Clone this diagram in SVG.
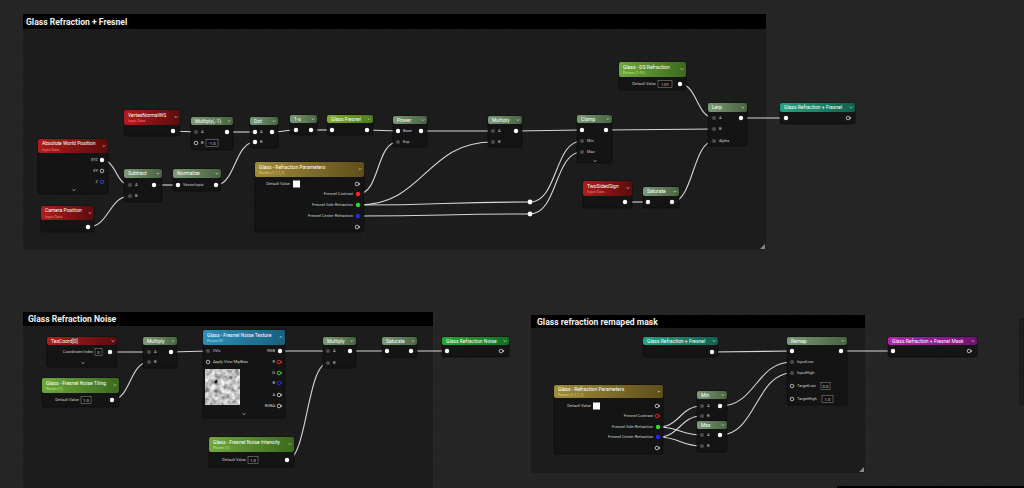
<svg xmlns="http://www.w3.org/2000/svg" xmlns:xlink="http://www.w3.org/1999/xlink" width="1024" height="488" viewBox="0 0 1024 488">
<defs>
<style>
.t{font-family:Roboto,"Liberation Sans",sans-serif;font-size:5px;fill:#fff}
.s{font-family:Roboto,"Liberation Sans",sans-serif;font-size:3.8px}
.l{font-family:Roboto,"Liberation Sans",sans-serif;font-size:4px;fill:#cfcfcf}
.e{text-anchor:end}
.v{font-family:Roboto,"Liberation Sans",sans-serif;font-size:4.2px;fill:#ddd;text-anchor:middle}
.ct{font-family:Roboto,"Liberation Sans",sans-serif;font-size:8.6px;font-weight:bold;fill:#f2f2f2}
.body{fill:#141414;fill-opacity:.95;stroke:#060606;stroke-width:.6}
.w{fill:none;stroke:#d6d6d6;stroke-width:1.1}
.p{fill:#fff}
.g{fill:#4b4b4b}
.r{fill:none;stroke:#d8d8d8;stroke-width:.8}
.box{fill:#0e0e0e;stroke:#9a9a9a;stroke-width:.5}
.cm{fill:#000;fill-opacity:.22}
.ch{fill:#000}
</style>
<pattern id="minor" width="11.75" height="11.75" patternUnits="userSpaceOnUse">
<path d="M11.75 0V11.75H0" fill="none" stroke="#2c2c2c" stroke-width=".6"/>
</pattern>
<pattern id="major" width="47" height="47" patternUnits="userSpaceOnUse">
<path d="M47 0V47H0" fill="none" stroke="#1c1c1c" stroke-width=".8"/>
</pattern>
<linearGradient id="gm" x1="0" x2="1"><stop offset="0" stop-color="#7c9a78"/><stop offset="1" stop-color="#47633f"/></linearGradient>
<linearGradient id="gr" x1="0" x2="1"><stop offset="0" stop-color="#b01c1c"/><stop offset="1" stop-color="#5a0c0c"/></linearGradient>
<linearGradient id="gp" x1="0" x2="1"><stop offset="0" stop-color="#6fa83a"/><stop offset="1" stop-color="#3c6a1e"/></linearGradient>
<linearGradient id="gy" x1="0" x2="1"><stop offset="0" stop-color="#a08c3a"/><stop offset="1" stop-color="#5e4e1a"/></linearGradient>
<linearGradient id="gb" x1="0" x2="1"><stop offset="0" stop-color="#2a90b8"/><stop offset="1" stop-color="#18607e"/></linearGradient>
<linearGradient id="gt" x1="0" x2="1"><stop offset="0" stop-color="#22a484"/><stop offset="1" stop-color="#11604e"/></linearGradient>
<linearGradient id="gg" x1="0" x2="1"><stop offset="0" stop-color="#22a83a"/><stop offset="1" stop-color="#127025"/></linearGradient>
<linearGradient id="gf" x1="0" x2="1"><stop offset="0" stop-color="#7fae2e"/><stop offset="1" stop-color="#4c7a1c"/></linearGradient>
<linearGradient id="gx" x1="0" x2="1"><stop offset="0" stop-color="#b424b4"/><stop offset="1" stop-color="#6e126e"/></linearGradient>
<path id="chev" d="M-1.4 -0.7L0 0.7L1.4 -0.7" fill="none" stroke="#dcdcdc" stroke-width=".7"/>
<path id="chevu" d="M-1.4 0.7L0 -0.7L1.4 0.7" fill="none" stroke="#dcdcdc" stroke-width=".7"/>
<g id="oring"><circle r="1.8" fill="none" stroke="#d8d8d8" stroke-width=".8"/><path d="M2 -1.2L3.2 0L2 1.2Z" fill="#d8d8d8"/></g>
<filter id="nz" x="0" y="0" width="1" height="1">
<feTurbulence type="fractalNoise" baseFrequency="0.2" numOctaves="2" seed="7"/>
<feColorMatrix type="saturate" values="0"/>
<feComponentTransfer><feFuncR type="linear" slope="1.9" intercept="-0.4"/><feFuncG type="linear" slope="1.9" intercept="-0.4"/><feFuncB type="linear" slope="1.9" intercept="-0.4"/><feFuncA type="linear" slope="0" intercept="1"/></feComponentTransfer>
</filter>
</defs>

<!-- background -->
<rect width="1024" height="488" fill="#252525"/>
<rect width="1024" height="488" fill="url(#minor)"/>
<rect width="1024" height="488" fill="url(#major)"/>

<!-- comment boxes -->
<g id="comment-fresnel">
<rect class="cm" x="23" y="29" width="743" height="221"/>
<rect class="ch" x="23" y="14" width="743" height="15"/>
<text class="ct" x="26" y="24.8">Glass Refraction + Fresnel</text>
<path d="M765 244L765 249L760 249Z" fill="#888"/>
</g>
<g id="comment-noise">
<rect class="cm" x="23" y="326" width="410" height="162"/>
<rect class="ch" x="23" y="312" width="410" height="14"/>
<text class="ct" x="28" y="322.3">Glass Refraction Noise</text>
</g>
<g id="comment-mask">
<rect class="cm" x="531" y="328" width="334" height="145"/>
<rect class="ch" x="531" y="315" width="334" height="13"/>
<text class="ct" x="537" y="325">Glass refraction remaped mask</text>
<path d="M864 467L864 472L859 472Z" fill="#888"/>
</g>
<rect x="837" y="486" width="187" height="2" fill="#000"/>
<rect x="1019" y="318" width="5" height="87" fill="#000" fill-opacity=".25"/>

<!-- connectors -->
<g id="connectors">
<path class="w" d="M102 160C116 160 116 185 130 185"/>
<path class="w" d="M88 227C109 227 109 196 130 196"/>
<path class="w" d="M154 185L178 185"/>
<path class="w" d="M173 131L196 132"/>
<path class="w" d="M216 185C235 185 235 142 255 142"/>
<path class="w" d="M227 132L255 132"/>
<path class="w" d="M272 132C284 132 284 130 296 130"/>
<path class="w" d="M311 130L332 130"/>
<path class="w" d="M367 130L398 131"/>
<path class="w" d="M358 194C380 194 376 142 398 142"/>
<path class="w" d="M358 205C425 205 425 142 493 142"/>
<path class="w" d="M421 131L493 131"/>
<path class="w" d="M516 131L582 130"/>
<path class="w" d="M358 205C444 205 444 202 530 202"/>
<path class="w" d="M530 202C558 202 554 141 582 141"/>
<path class="w" d="M358 216C444 216 444 214 530 214"/>
<path class="w" d="M530 214C558 214 554 152 582 152"/>
<path class="w" d="M606 130L714 129"/>
<path class="w" d="M680 84C697 84 697 118 714 118"/>
<path class="w" d="M625 202L648 202"/>
<path class="w" d="M672 202C693 202 693 141 714 141"/>
<path class="w" d="M741 118L786 118"/>
<path class="w" d="M110 352L149 352"/>
<path class="w" d="M112 400C130 400 130 362 149 362"/>
<path class="w" d="M171 352L208 351"/>
<path class="w" d="M280 351L328 351"/>
<path class="w" d="M287 460C307 460 307 363 328 363"/>
<path class="w" d="M350 351L387 351"/>
<path class="w" d="M411 351L447 351"/>
<path class="w" d="M712 352L792 351"/>
<path class="w" d="M841 351L893 351"/>
<path class="w" d="M720 406C756 406 756 362 792 362"/>
<path class="w" d="M720 435C756 435 756 373 792 373"/>
<path class="w" d="M658 427C680 427 680 406 702 406"/>
<path class="w" d="M658 427C680 427 680 435 702 435"/>
<path class="w" d="M658 437C680 437 680 416 702 416"/>
<path class="w" d="M658 437C680 437 680 446 702 446"/>
</g>

<!-- ===== Box 1 nodes ===== -->
<g id="n-absolute-world-position">
<rect class="body" x="38" y="139" width="70" height="55" rx="2"/>
<rect x="38" y="139" width="70" height="14" rx="2" fill="url(#gr)"/>
<text class="t" x="42" y="145.3">Absolute World Position</text>
<text class="s" x="42" y="151" fill="#e88080">Input Data</text>
<use href="#chev" x="104" y="146"/>
<text class="l e" x="98" y="161.4">XYZ</text><circle class="p" cx="102" cy="160" r="2.2"/>
<text class="l e" x="98" y="172.4">XY</text><circle class="r" cx="102" cy="171" r="1.8"/>
<text class="l e" x="98" y="183.4">Z</text><circle cx="102" cy="182" r="1.8" fill="none" stroke="#2844ff" stroke-width=".9"/>
<use href="#chev" x="74" y="190"/>
</g>
<g id="n-vertexnormalws">
<rect class="body" x="124" y="110" width="56" height="26" rx="2"/>
<rect x="124" y="110" width="56" height="15" rx="2" fill="url(#gr)"/>
<text class="t" x="128" y="116.5">VertexNormalWS</text>
<text class="s" x="128" y="122.3" fill="#e88080">Input Data</text>
<use href="#chev" x="176" y="117"/>
<circle class="p" cx="173" cy="131" r="2.2"/>
</g>
<g id="n-camera-position">
<rect class="body" x="41" y="206" width="53" height="26" rx="2"/>
<rect x="41" y="206" width="53" height="14" rx="2" fill="url(#gr)"/>
<text class="t" x="45" y="212.3">Camera Position</text>
<text class="s" x="45" y="218" fill="#e88080">Input Data</text>
<use href="#chev" x="90" y="213"/>
<circle class="p" cx="88" cy="227" r="2.2"/>
</g>
<g id="n-subtract">
<rect class="body" x="124" y="169" width="38" height="33" rx="2"/>
<rect x="124" y="169" width="38" height="9" rx="2" fill="url(#gm)"/>
<text class="t" x="128" y="175.4">Subtract</text>
<use href="#chev" x="158" y="173.5"/>
<circle class="g" cx="130" cy="185" r="2"/><text class="l" x="135" y="186.4">A</text>
<circle class="g" cx="130" cy="196" r="2"/><text class="l" x="135" y="197.4">B</text>
<circle class="p" cx="154" cy="185" r="2.2"/>
</g>
<g id="n-normalize">
<rect class="body" x="173" y="169" width="48" height="22" rx="2"/>
<rect x="173" y="169" width="48" height="9" rx="2" fill="url(#gm)"/>
<text class="t" x="177" y="175.4">Normalize</text>
<use href="#chev" x="217" y="173.5"/>
<circle class="p" cx="178" cy="185" r="2.2"/><text class="l" x="183" y="186.4">VectorInput</text>
<circle class="p" cx="216" cy="185" r="2.2"/>
</g>
<g id="n-multiply-neg1">
<rect class="body" x="191" y="117" width="42" height="33" rx="2"/>
<rect x="191" y="117" width="42" height="8" rx="2" fill="url(#gm)"/>
<text class="t" x="195" y="122.9">Multiply(,-1)</text>
<use href="#chev" x="229" y="121"/>
<circle class="g" cx="196" cy="132" r="2"/><text class="l" x="201" y="133.4">A</text>
<circle class="r" cx="196" cy="143" r="1.8"/><text class="l" x="201" y="144.4">B</text>
<rect class="box" x="206" y="139.5" width="12" height="7"/><text class="v" x="212" y="144.5">-1.0</text>
<circle class="p" cx="227" cy="132" r="2.2"/>
</g>
<g id="n-dot">
<rect class="body" x="250" y="117" width="28" height="31" rx="2"/>
<rect x="250" y="117" width="28" height="8" rx="2" fill="url(#gm)"/>
<text class="t" x="254" y="122.9">Dot</text>
<use href="#chev" x="274" y="121"/>
<circle class="p" cx="255" cy="132" r="2.2"/><text class="l" x="260" y="133.4">A</text>
<circle class="p" cx="255" cy="142" r="2.2"/><text class="l" x="260" y="143.4">B</text>
<circle class="p" cx="272" cy="132" r="2.2"/>
</g>
<g id="n-one-minus">
<rect class="body" x="290" y="115" width="27" height="20" rx="2"/>
<rect x="290" y="115" width="27" height="8" rx="2" fill="url(#gm)"/>
<text class="t" x="294" y="120.9">1-x</text>
<use href="#chev" x="313" y="119"/>
<circle class="p" cx="296" cy="130" r="2.2"/>
<circle class="p" cx="311" cy="130" r="2.2"/>
</g>
<g id="n-glass-fresnel">
<rect class="body" x="327" y="115" width="46" height="20" rx="2"/>
<rect x="327" y="115" width="46" height="8" rx="2" fill="url(#gf)"/>
<text class="t" x="331" y="120.9">Glass Fresnel</text>
<use href="#chev" x="369" y="119"/>
<circle class="p" cx="332" cy="130" r="2.2"/>
<circle class="p" cx="367" cy="130" r="2.2"/>
</g>
<g id="n-refraction-params-1">
<rect class="body" x="255" y="162" width="109" height="70" rx="2"/>
<rect x="255" y="162" width="109" height="15" rx="2" fill="url(#gy)"/>
<text class="t" x="259" y="168.5">Glass - Refraction Parameters</text>
<text class="s" x="259" y="174.4" fill="#e0cf80">Param (1,1,1,1)</text>
<use href="#chev" x="360" y="169"/>
<text class="l e" x="290" y="185.4">Default Value</text>
<rect x="293" y="180.5" width="7" height="7" fill="#fff"/>
<use href="#oring" x="357" y="184"/>
<text class="l e" x="353" y="195.4">Fresnel Contrast</text><circle cx="358" cy="194" r="2.2" fill="#ff2020"/>
<text class="l e" x="353" y="206.4">Fresnel Side Refraction</text><circle cx="358" cy="205" r="2.2" fill="#22e022"/>
<text class="l e" x="353" y="217.4">Fresnel Center Refraction</text><circle cx="358" cy="216" r="2.2" fill="#2424ff"/>
<use href="#oring" x="357" y="227"/>
</g>
<g id="n-power">
<rect class="body" x="393" y="116" width="34" height="31" rx="2"/>
<rect x="393" y="116" width="34" height="8" rx="2" fill="url(#gm)"/>
<text class="t" x="397" y="121.9">Power</text>
<use href="#chev" x="423" y="120"/>
<circle class="p" cx="398" cy="131" r="2.2"/><text class="l" x="403" y="132.4">Base</text>
<circle class="g" cx="398" cy="142" r="2"/><text class="l" x="403" y="143.4">Exp</text>
<circle class="p" cx="421" cy="131" r="2.2"/>
</g>
<g id="n-multiply-1">
<rect class="body" x="488" y="116" width="34" height="31" rx="2"/>
<rect x="488" y="116" width="34" height="8" rx="2" fill="url(#gm)"/>
<text class="t" x="492" y="121.9">Multiply</text>
<use href="#chev" x="518" y="120"/>
<circle class="g" cx="493" cy="131" r="2"/><text class="l" x="498" y="132.4">A</text>
<circle class="g" cx="493" cy="142" r="2"/><text class="l" x="498" y="143.4">B</text>
<circle class="p" cx="516" cy="131" r="2.2"/>
</g>
<g id="n-clamp">
<rect class="body" x="577" y="115" width="35" height="48" rx="2"/>
<rect x="577" y="115" width="35" height="8" rx="2" fill="url(#gm)"/>
<text class="t" x="581" y="120.9">Clamp</text>
<use href="#chev" x="608" y="119"/>
<circle class="p" cx="582" cy="130" r="2.2"/>
<circle class="g" cx="582" cy="141" r="2"/><text class="l" x="587" y="142.4">Min</text>
<circle class="g" cx="582" cy="152" r="2"/><text class="l" x="587" y="153.4">Max</text>
<use href="#chev" x="595" y="161"/>
<circle class="p" cx="606" cy="130" r="2.2"/>
</g>
<g id="n-reroute-1"><circle class="p" cx="530" cy="202" r="2.4"/></g>
<g id="n-reroute-2"><circle class="p" cx="530" cy="214" r="2.4"/></g>
<g id="n-ds-refraction">
<rect class="body" x="619" y="62" width="67" height="28" rx="2"/>
<rect x="619" y="62" width="67" height="15" rx="2" fill="url(#gp)"/>
<text class="t" x="623" y="68.5">Glass - DS Refraction</text>
<text class="s" x="623" y="74.4" fill="#bfe890">Param (1.01)</text>
<use href="#chev" x="682" y="69"/>
<text class="l e" x="656" y="85.4">Default Value</text>
<rect class="box" x="658" y="80.5" width="14" height="7"/><text class="v" x="665" y="85.5">1.01</text>
<circle class="p" cx="680" cy="84" r="2.2"/>
</g>
<g id="n-lerp">
<rect class="body" x="708" y="103" width="39" height="43" rx="2"/>
<rect x="708" y="103" width="39" height="9" rx="2" fill="url(#gm)"/>
<text class="t" x="712" y="109.4">Lerp</text>
<use href="#chev" x="743" y="107.5"/>
<circle class="g" cx="714" cy="118" r="2"/><text class="l" x="719" y="119.4">A</text>
<circle class="g" cx="714" cy="129" r="2"/><text class="l" x="719" y="130.4">B</text>
<circle class="g" cx="714" cy="141" r="2"/><text class="l" x="719" y="142.4">Alpha</text>
<circle class="p" cx="741" cy="118" r="2.2"/>
</g>
<g id="n-grf-declare">
<rect class="body" x="780" y="103" width="75" height="21" rx="2"/>
<rect x="780" y="103" width="75" height="9" rx="2" fill="url(#gt)"/>
<text class="t" x="784" y="109.4">Glass Refraction + Fresnel</text>
<use href="#chev" x="851" y="107.5"/>
<circle class="p" cx="786" cy="118" r="2.2"/>
<use href="#oring" x="848" y="118"/>
</g>
<g id="n-twosidedsign">
<rect class="body" x="583" y="181" width="49" height="27" rx="2"/>
<rect x="583" y="181" width="49" height="15" rx="2" fill="url(#gr)"/>
<text class="t" x="587" y="187.5">TwoSidedSign</text>
<text class="s" x="587" y="193.4" fill="#e88080">Input Data</text>
<use href="#chev" x="628" y="188"/>
<circle class="p" cx="625" cy="202" r="2.2"/>
</g>
<g id="n-saturate-1">
<rect class="body" x="643" y="187" width="36" height="21" rx="2"/>
<rect x="643" y="187" width="36" height="9" rx="2" fill="url(#gm)"/>
<text class="t" x="647" y="193.4">Saturate</text>
<use href="#chev" x="675" y="191.5"/>
<circle class="p" cx="648" cy="202" r="2.2"/>
<circle class="p" cx="672" cy="202" r="2.2"/>
</g>

<!-- ===== Box 2 nodes ===== -->
<g id="n-texcoord">
<rect class="body" x="47" y="337" width="70" height="30" rx="2"/>
<rect x="47" y="337" width="70" height="8" rx="2" fill="url(#gr)"/>
<text class="t" x="51" y="342.9">TexCoord[0]</text>
<use href="#chev" x="113" y="341"/>
<text class="l e" x="93" y="353.4">Coordinate Index</text>
<rect class="box" x="95" y="348.5" width="7" height="7"/><text class="v" x="98.5" y="353.5">0</text>
<circle class="p" cx="110" cy="352" r="2.2"/>
<use href="#chev" x="83" y="363"/>
</g>
<g id="n-noise-tiling">
<rect class="body" x="42" y="378" width="77" height="29" rx="2"/>
<rect x="42" y="378" width="77" height="15" rx="2" fill="url(#gp)"/>
<text class="t" x="46" y="384.5">Glass - Fresnel Noise Tiling</text>
<text class="s" x="46" y="390.4" fill="#bfe890">Param (1)</text>
<use href="#chev" x="115" y="385"/>
<text class="l e" x="79" y="401.4">Default Value</text>
<rect class="box" x="81" y="396.5" width="10" height="7"/><text class="v" x="86" y="401.5">1.0</text>
<circle class="p" cx="112" cy="400" r="2.2"/>
</g>
<g id="n-multiply-2">
<rect class="body" x="143" y="337" width="34" height="31" rx="2"/>
<rect x="143" y="337" width="34" height="8" rx="2" fill="url(#gm)"/>
<text class="t" x="147" y="342.9">Multiply</text>
<use href="#chev" x="173" y="341"/>
<circle class="g" cx="149" cy="352" r="2"/><text class="l" x="154" y="353.4">A</text>
<circle class="g" cx="149" cy="362" r="2"/><text class="l" x="154" y="363.4">B</text>
<circle class="p" cx="171" cy="352" r="2.2"/>
</g>
<g id="n-noise-texture">
<rect class="body" x="203" y="330" width="82" height="88" rx="2"/>
<rect x="203" y="330" width="82" height="15" rx="2" fill="url(#gb)"/>
<text class="t" x="207" y="336.5">Glass - Fresnel Noise Texture</text>
<text class="s" x="207" y="342.4" fill="#a8d8f4">Param2D</text>
<use href="#chevu" x="281" y="337"/>
<circle class="g" cx="208" cy="351" r="2"/><text class="l" x="213" y="352.4">UVs</text>
<circle class="r" cx="208" cy="362" r="1.8"/><text class="l" x="213" y="363.4">Apply View MipBias</text>
<text class="l e" x="275" y="352.4">RGB</text><circle class="p" cx="280" cy="351" r="2.2"/>
<text class="l e" x="275" y="363.4">R</text><circle cx="279" cy="362" r="1.8" fill="none" stroke="#ff2a2a" stroke-width=".9"/><path d="M281 360.8L282.2 362L281 363.2Z" fill="#ff2a2a"/>
<text class="l e" x="275" y="374.4">G</text><circle cx="279" cy="373" r="1.8" fill="none" stroke="#2ae02a" stroke-width=".9"/><path d="M281 371.8L282.2 373L281 374.2Z" fill="#2ae02a"/>
<text class="l e" x="275" y="384.4">B</text><circle cx="279" cy="383" r="1.8" fill="none" stroke="#2a2aff" stroke-width=".9"/><path d="M281 381.8L282.2 383L281 384.2Z" fill="#2a2aff"/>
<text class="l e" x="275" y="396.4">A</text><use href="#oring" x="279" y="395"/>
<text class="l e" x="275" y="407.4">RGBA</text><use href="#oring" x="279" y="406"/>
<rect x="205" y="369" width="35" height="36" filter="url(#nz)"/>
<use href="#chev" x="244" y="414"/>
</g>
<g id="n-noise-intensity">
<rect class="body" x="209" y="437" width="85" height="30" rx="2"/>
<rect x="209" y="437" width="85" height="15" rx="2" fill="url(#gp)"/>
<text class="t" x="213" y="443.5">Glass - Fresnel Noise Intensity</text>
<text class="s" x="213" y="449.4" fill="#bfe890">Param (1)</text>
<use href="#chev" x="290" y="444"/>
<text class="l e" x="246" y="461.4">Default Value</text>
<rect class="box" x="248" y="456.5" width="10" height="7"/><text class="v" x="253" y="461.5">1.0</text>
<circle class="p" cx="287" cy="460" r="2.2"/>
</g>
<g id="n-multiply-3">
<rect class="body" x="323" y="337" width="33" height="31" rx="2"/>
<rect x="323" y="337" width="33" height="8" rx="2" fill="url(#gm)"/>
<text class="t" x="327" y="342.9">Multiply</text>
<use href="#chev" x="352" y="341"/>
<circle class="g" cx="328" cy="351" r="2"/><text class="l" x="333" y="352.4">A</text>
<circle class="g" cx="328" cy="363" r="2"/><text class="l" x="333" y="364.4">B</text>
<circle class="p" cx="350" cy="351" r="2.2"/>
</g>
<g id="n-saturate-2">
<rect class="body" x="382" y="337" width="35" height="20" rx="2"/>
<rect x="382" y="337" width="35" height="8" rx="2" fill="url(#gm)"/>
<text class="t" x="386" y="342.9">Saturate</text>
<use href="#chev" x="413" y="341"/>
<circle class="p" cx="387" cy="351" r="2.2"/>
<circle class="p" cx="411" cy="351" r="2.2"/>
</g>
<g id="n-grn-declare">
<rect class="body" x="442" y="337" width="67" height="20" rx="2"/>
<rect x="442" y="337" width="67" height="8" rx="2" fill="url(#gg)"/>
<text class="t" x="446" y="342.9">Glass Refraction Noise</text>
<use href="#chev" x="505" y="341"/>
<circle class="p" cx="447" cy="351" r="2.2"/>
<use href="#oring" x="501" y="351"/>
</g>

<!-- ===== Box 3 nodes ===== -->
<g id="n-grf-get">
<rect class="body" x="643" y="337" width="75" height="20" rx="2"/>
<rect x="643" y="337" width="75" height="8" rx="2" fill="url(#gt)"/>
<text class="t" x="647" y="342.9">Glass Refraction + Fresnel</text>
<use href="#chev" x="714" y="341"/>
<circle class="p" cx="712" cy="352" r="2.2"/>
</g>
<g id="n-refraction-params-2">
<rect class="body" x="554" y="385" width="109" height="69" rx="2"/>
<rect x="554" y="385" width="109" height="13" rx="2" fill="url(#gy)"/>
<text class="t" x="558" y="390.6">Glass - Refraction Parameters</text>
<text class="s" x="558" y="396.2" fill="#e0cf80">Param (1,1,1,1)</text>
<use href="#chev" x="659" y="391.5"/>
<text class="l e" x="591" y="407.4">Default Value</text>
<rect x="593" y="402.5" width="7" height="7" fill="#fff"/>
<use href="#oring" x="657" y="406"/>
<text class="l e" x="653" y="417.4">Fresnel Contrast</text>
<circle cx="657" cy="416" r="1.8" fill="none" stroke="#ff2020" stroke-width=".9"/><path d="M659 414.8L660.2 416L659 417.2Z" fill="#ff2020"/>
<text class="l e" x="653" y="428.4">Fresnel Side Refraction</text><circle cx="658" cy="427" r="2.2" fill="#22e022"/>
<text class="l e" x="653" y="438.4">Fresnel Center Refraction</text><circle cx="658" cy="437" r="2.2" fill="#2424ff"/>
<use href="#oring" x="657" y="448"/>
</g>
<g id="n-min">
<rect class="body" x="697" y="391" width="30" height="30" rx="2"/>
<rect x="697" y="391" width="30" height="8" rx="2" fill="url(#gm)"/>
<text class="t" x="701" y="396.9">Min</text>
<use href="#chev" x="723" y="395"/>
<circle class="g" cx="702" cy="406" r="2"/><text class="l" x="707" y="407.4">A</text>
<circle class="g" cx="702" cy="416" r="2"/><text class="l" x="707" y="417.4">B</text>
<circle class="p" cx="720" cy="406" r="2.2"/>
</g>
<g id="n-max">
<rect class="body" x="697" y="421" width="30" height="31" rx="2"/>
<rect x="697" y="421" width="30" height="8" rx="2" fill="url(#gm)"/>
<text class="t" x="701" y="426.9">Max</text>
<use href="#chev" x="723" y="425"/>
<circle class="g" cx="702" cy="435" r="2"/><text class="l" x="707" y="436.4">A</text>
<circle class="g" cx="702" cy="446" r="2"/><text class="l" x="707" y="447.4">B</text>
<circle class="p" cx="720" cy="435" r="2.2"/>
</g>
<g id="n-remap">
<rect class="body" x="787" y="337" width="60" height="68" rx="2"/>
<rect x="787" y="337" width="60" height="8" rx="2" fill="url(#gm)"/>
<text class="t" x="791" y="342.9">Remap</text>
<use href="#chev" x="843" y="341"/>
<circle class="p" cx="792" cy="351" r="2.2"/>
<circle class="p" cx="841" cy="351" r="2.2"/>
<circle class="g" cx="792" cy="362" r="2"/><text class="l" x="797" y="363.4">InputLow</text>
<circle class="g" cx="792" cy="373" r="2"/><text class="l" x="797" y="374.4">InputHigh</text>
<circle class="r" cx="792" cy="386" r="1.8"/><text class="l" x="797" y="387.4">TargetLow</text>
<rect class="box" x="821" y="382.5" width="9" height="7"/><text class="v" x="825.5" y="387.5">0.0</text>
<circle class="r" cx="792" cy="399" r="1.8"/><text class="l" x="797" y="400.4">TargetHigh</text>
<rect class="box" x="822" y="395.5" width="11" height="7"/><text class="v" x="827.5" y="400.5">1.0</text>
</g>
<g id="n-mask-declare">
<rect class="body" x="888" y="337" width="89" height="20" rx="2"/>
<rect x="888" y="337" width="89" height="8" rx="2" fill="url(#gx)"/>
<text class="t" x="892" y="342.9">Glass Refraction + Fresnel Mask</text>
<use href="#chev" x="973" y="341"/>
<circle class="p" cx="893" cy="351" r="2.2"/>
<use href="#oring" x="969" y="351"/>
</g>
</svg>
